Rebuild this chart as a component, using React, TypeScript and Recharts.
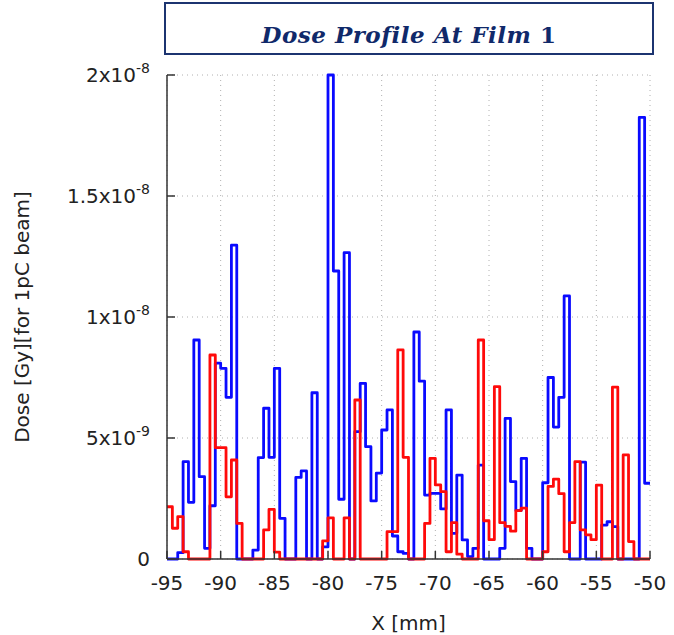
import { LineChart, Line, XAxis, YAxis, CartesianGrid } from 'recharts'

// bins are 0.5 mm wide, starting at -95 mm
const binStart = -95
const binWidth = 0.5

// dose per bin, in units of 1e-9 Gy (for 1pC beam)
const blueDose = [
  0, 0, 0.26, 4.02, 2.34, 9.05, 3.4, 0.44, 2.2, 8.09,
  7.88, 6.68, 12.97, 0, 0, 0, 0.37, 4.19, 6.23, 4.2,
  7.88, 1.68, 0, 0, 3.37, 3.64, 0, 6.87, 0, 0.5,
  20, 11.9, 2.47, 12.66, 0, 5.26, 7.26, 4.64, 2.4, 3.55,
  5.33, 6.16, 0.95, 0.3, 0.23, 0, 9.38, 7.35, 2.64, 2.71,
  2.71, 2.07, 6.16, 1.06, 3.47, 0.79, 0.1, 0.44, 3.88, 0,
  0, 0, 0.44, 5.81, 3.2, 2.0, 4.16, 0.44, 0, 0,
  3.15, 7.5, 5.45, 6.68, 10.87, 0, 0, 4.0, 0, 0,
  0, 1.4, 1.54, 1.34, 0, 0, 0, 0, 18.25, 3.13,
]

const redDose = [
  2.16, 1.27, 1.75, 0.3, 0, 0, 0, 0, 8.43, 4.6,
  4.6, 2.57, 4.09, 1.47, 0, 0, 0, 0, 1.2, 2.05,
  0.28, 0, 0, 0, 0, 0, 0, 0, 0, 0.75,
  1.7, 0, 0, 1.7, 0, 6.57, 0, 0, 0, 0,
  0, 1.13, 1.13, 8.64, 4.2, 0, 0, 0, 1.47, 4.16,
  3.06, 2.78, 0.3, 1.5, 0.2, 0, 0, 0, 9.05, 1.58,
  0.8, 7.12, 1.5, 1.35, 1.15, 2.0, 2.1, 0, 0, 0,
  0.3, 3.0, 3.3, 2.7, 0.3, 1.5, 4.02, 1.2, 1.0, 0.8,
  3.05, 0, 0, 7.1, 0, 4.3, 0.72, 0, 0, 0,
]

const xTicks = [-95, -90, -85, -80, -75, -70, -65, -60, -55, -50]
const yTicks = [0, 5, 10, 15, 20]
const yTickMantissa = ['0', '5', '1', '1.5', '2']
const yTickExponent = ['', '-9', '-8', '-8', '-8']

// one point per bin edge; the last edge repeats the last bin so the step closes at -50
const data = blueDose.map((b, i) => ({ x: binStart + i * binWidth, blue: b, red: redDose[i] }))
data.push({
  x: binStart + blueDose.length * binWidth,
  blue: blueDose[blueDose.length - 1],
  red: redDose[redDose.length - 1],
})

const FONT = 'DejaVu Sans'
const INK = '#222'
const FRAME = '#333'

function YTick(props: any) {
  const { x, y, payload } = props
  const i = yTicks.indexOf(payload.value)
  const exp = yTickExponent[i]
  return (
    <text x={x} y={y} dy={7} textAnchor="end" fontSize={20} fontFamily={FONT} fill={INK}>
      {yTickMantissa[i]}
      {exp ? 'x10' : null}
      {exp ? (
        <tspan dy={-9} fontSize={14}>
          {exp}
        </tspan>
      ) : null}
    </text>
  )
}

function NoTick() {
  return <g />
}

export default function App() {
  return (
    <div style={{ position: 'absolute', left: 0, top: 0, width: 674, height: 635, background: '#fff' }}>
      <div
        style={{
          position: 'absolute',
          left: 164,
          top: 2,
          width: 490,
          height: 53,
          border: '2px solid #1c3470',
          boxSizing: 'border-box',
        }}
      />
      <div
        style={{
          position: 'absolute',
          left: 164,
          top: 22,
          width: 490,
          height: 26,
          lineHeight: '26px',
          textAlign: 'center',
          fontFamily: 'DejaVu Serif',
          fontWeight: 'bold',
          fontStyle: 'italic',
          fontSize: 23,
          letterSpacing: 0.5,
          color: '#10296a',
          whiteSpace: 'nowrap',
        }}
      >
        Dose Profile At Film <span style={{ fontStyle: 'normal' }}>1</span>
      </div>
      <LineChart width={674} height={635} data={data} margin={{ top: 75, right: 24, bottom: 0, left: 0 }}>
        <CartesianGrid stroke="#b0b0b0" strokeDasharray="1 4" />
        <XAxis
          dataKey="x"
          type="number"
          domain={[-95, -50]}
          ticks={xTicks}
          height={76}
          tickSize={-8}
          tickMargin={25}
          stroke={FRAME}
          axisLine={{ stroke: FRAME, strokeWidth: 1.5 }}
          tickLine={{ stroke: FRAME, strokeWidth: 1.5 }}
          tick={{ fontSize: 20, fontFamily: FONT, fill: INK }}
          label={{
            content: (p: any) => {
              const vb = p.viewBox
              return (
                <text x={vb.x + vb.width / 2} y={630} textAnchor="middle" fontSize={20} fontFamily={FONT} fill={INK}>
                  X [mm]
                </text>
              )
            },
          }}
        />
        <XAxis
          xAxisId="top"
          orientation="top"
          dataKey="x"
          type="number"
          domain={[-95, -50]}
          ticks={xTicks}
          height={0}
          tickSize={-8}
          axisLine={{ stroke: FRAME, strokeWidth: 1.5 }}
          tickLine={{ stroke: FRAME, strokeWidth: 1.5 }}
          tick={<NoTick />}
        />
        <YAxis
          type="number"
          domain={[0, 20]}
          ticks={yTicks}
          width={167}
          tickSize={-8}
          tickMargin={25}
          axisLine={{ stroke: FRAME, strokeWidth: 1.5 }}
          tickLine={{ stroke: FRAME, strokeWidth: 1.5 }}
          tick={<YTick />}
          label={{
            content: (p: any) => {
              const vb = p.viewBox
              const cy = vb.y + vb.height / 2
              return (
                <text
                  x={29}
                  y={cy}
                  transform={`rotate(-90, 29, ${cy})`}
                  textAnchor="middle"
                  fontSize={20}
                  fontFamily={FONT}
                  fill={INK}
                >
                  Dose [Gy][for 1pC beam]
                </text>
              )
            },
          }}
        />
        <YAxis
          yAxisId="right"
          orientation="right"
          type="number"
          domain={[0, 20]}
          ticks={yTicks}
          width={0}
          tickSize={-8}
          axisLine={{ stroke: FRAME, strokeWidth: 1.5 }}
          tickLine={{ stroke: FRAME, strokeWidth: 1.5 }}
          tick={<NoTick />}
        />
        <Line
          type="stepAfter"
          dataKey="blue"
          stroke="#0a0aff"
          strokeWidth={2.8}
          strokeLinejoin="round"
          dot={false}
          activeDot={false}
          isAnimationActive={false}
        />
        <Line
          type="stepAfter"
          dataKey="red"
          stroke="#ff0a0a"
          strokeWidth={2.8}
          strokeLinejoin="round"
          dot={false}
          activeDot={false}
          isAnimationActive={false}
        />
      </LineChart>
    </div>
  )
}
